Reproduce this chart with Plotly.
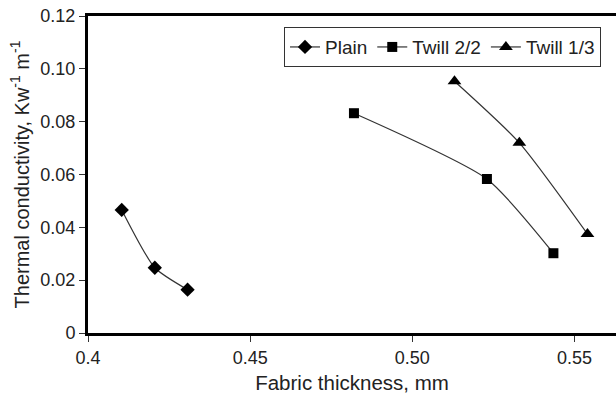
import plotly.graph_objects as go

plain_x = [0.4104, 0.4206, 0.4307]
plain_y = [0.0466, 0.0247, 0.0164]
twill22_x = [0.482, 0.523, 0.5435]
twill22_y = [0.0832, 0.0583, 0.0302]
twill13_x = [0.513, 0.533, 0.554]
twill13_y = [0.0953, 0.0720, 0.0375]

x_ticks = [0.4, 0.45, 0.5, 0.55]
x_labels = ["0.4", "0.45", "0.50", "0.55"]
y_ticks = [0, 0.02, 0.04, 0.06, 0.08, 0.10, 0.12]
y_labels = ["0", "0.02", "0.04", "0.06", "0.08", "0.10", "0.12"]

font = "Liberation Sans, Arial, sans-serif"
fig = go.Figure()
for name, xs, ys, sym, sz in [
    ("Plain", plain_x, plain_y, "diamond", 11),
    ("Twill 2/2", twill22_x, twill22_y, "square", 10),
    ("Twill 1/3", twill13_x, twill13_y, "triangle-up", 12),
]:
    fig.add_trace(go.Scatter(
        x=xs, y=ys, name=name, mode="lines+markers",
        line=dict(color="#333333", width=1.2, shape="spline", smoothing=0.6),
        marker=dict(symbol=sym, size=sz, color="black"),
    ))

fig.update_layout(
    width=616, height=404,
    margin=dict(l=88, r=0, t=16, b=71),
    plot_bgcolor="white", paper_bgcolor="white",
    font=dict(family=font, size=18, color="#222222"),
    showlegend=True,
    legend=dict(
        orientation="h", x=0.9716, xanchor="right", y=0.965, yanchor="top",
        bordercolor="#333333", borderwidth=1, bgcolor="white",
        font=dict(size=19, color="#222222"), itemwidth=30,
        tracegroupgap=0,
    ),
)
fig.update_xaxes(
    range=[0.4, 0.5628], tickvals=x_ticks, ticktext=x_labels,
    showgrid=False, zeroline=False,
    showline=True, linecolor="black", linewidth=3, mirror=True,
    ticks="outside", ticklen=6, tickwidth=1, tickcolor="#333333",
    title=dict(text="Fabric thickness, mm", font=dict(size=20.5), standoff=10),
)
fig.update_yaxes(
    range=[0, 0.12], tickvals=y_ticks, ticktext=y_labels,
    showgrid=False, zeroline=False,
    showline=True, linecolor="black", linewidth=3, mirror=False,
    ticks="outside", ticklen=6, tickwidth=1, tickcolor="#333333",
    title=dict(text="Thermal conductivity, Kw<sup>-1</sup> m<sup>-1</sup>", font=dict(size=20), standoff=6),
)
fig.write_html("out.html")
